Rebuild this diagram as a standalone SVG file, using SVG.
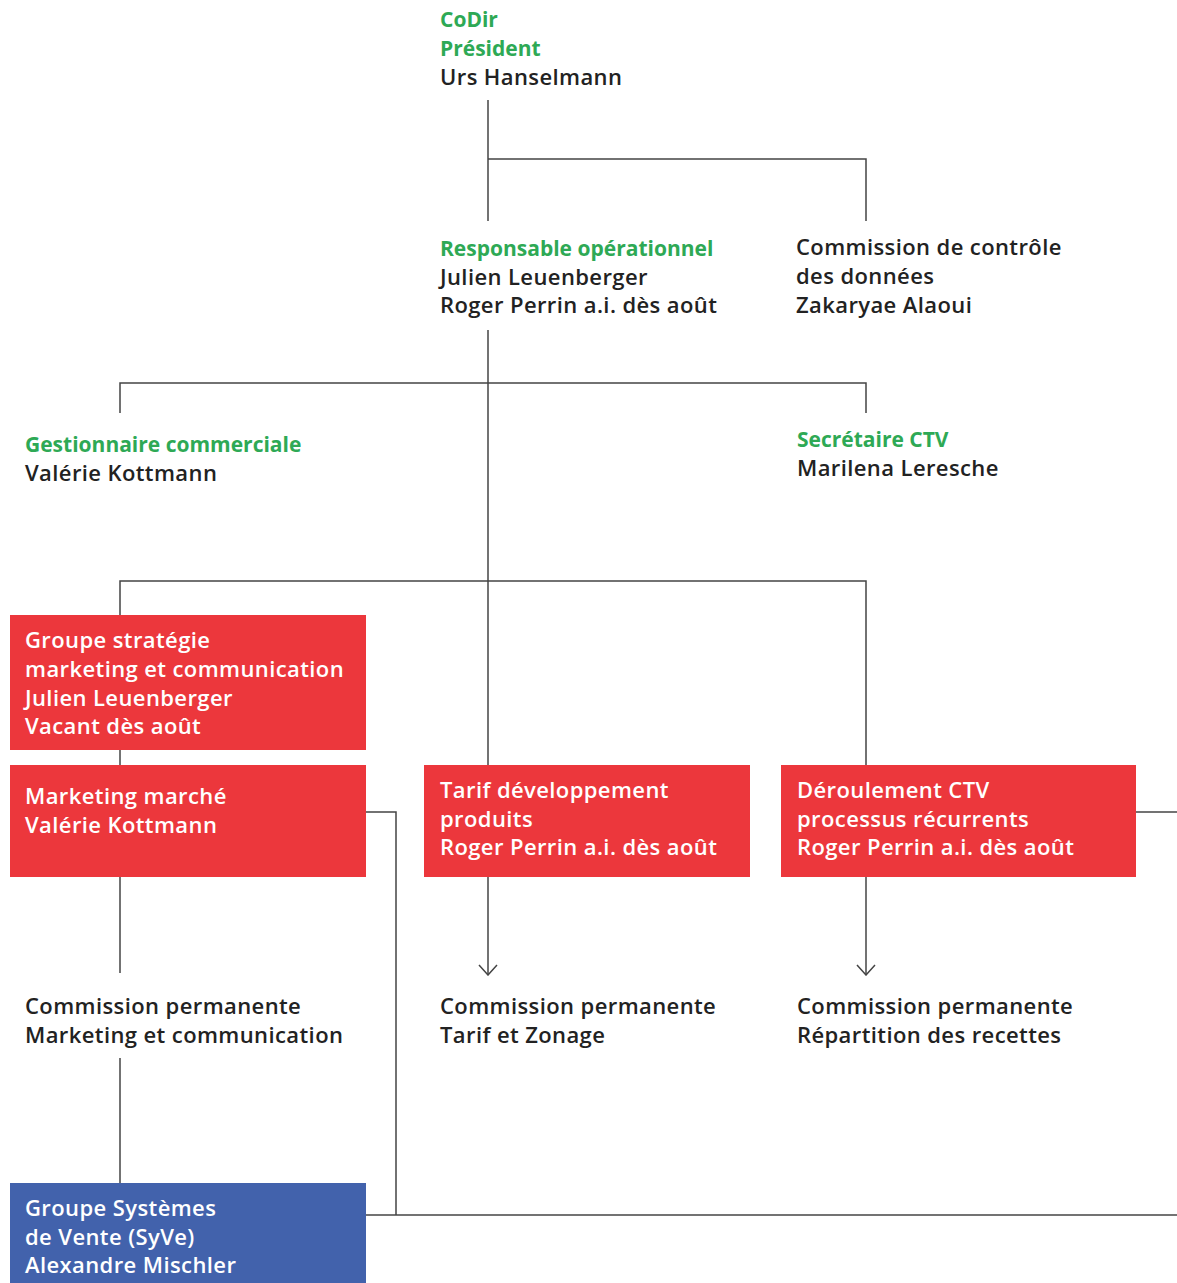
<svg xmlns="http://www.w3.org/2000/svg" width="1177" height="1283" viewBox="0 0 1177 1283">
<defs>
<style>
text{font-family:"Open Sans","Noto Sans","Liberation Sans",sans-serif;font-size:21px;}
.g{fill:#2ea955;font-weight:700;}
.k{fill:#222;font-weight:600;font-size:22px;letter-spacing:0.4px;}
.w{fill:#fff;font-weight:600;font-size:22px;letter-spacing:0.4px;}
.red{fill:#ec373c;}
.blue{fill:#4262ac;}
.ln{fill:none;stroke:#444;stroke-width:1.5;}
</style>
<marker id="chev" viewBox="0 0 12 20" refX="11" refY="10" markerWidth="12" markerHeight="20" markerUnits="userSpaceOnUse" orient="auto">
<path d="M1,1 L11,10 L1,19" fill="none" stroke="#444" stroke-width="1.5"/>
</marker>
</defs>
<rect width="1177" height="1283" fill="#fff"/>
<g id="connectors">
<path class="ln" d="M488,100 V221"/>
<path class="ln" d="M488,159 H866 V221"/>
<path class="ln" d="M488,330 V765"/>
<path class="ln" d="M120,413 V383 H866 V413"/>
<path class="ln" d="M120,615 V581 H866 V765"/>
<path class="ln" d="M120,750 V765"/>
<path class="ln" d="M120,877 V973"/>
<path class="ln" d="M120,1058 V1183"/>
<path class="ln" d="M366,812 H396 V1215"/>
<path class="ln" d="M366,1215 H1177"/>
<path class="ln" d="M1136,812 H1177"/>
<path class="ln" d="M488,877 V975" marker-end="url(#chev)"/>
<path class="ln" d="M866,877 V975" marker-end="url(#chev)"/>
</g>
<g id="codir">
<text x="440" y="27" class="g">CoDir</text>
<text x="440" y="56" class="g">Président</text>
<text x="440" y="85" class="k">Urs Hanselmann</text>
</g>
<g id="responsable">
<text x="440" y="256" class="g">Responsable opérationnel</text>
<text x="440" y="285" class="k">Julien Leuenberger</text>
<text x="440" y="313" class="k">Roger Perrin a.i. dès août</text>
</g>
<g id="commission-controle">
<text x="796" y="255" class="k">Commission de contrôle</text>
<text x="796" y="284" class="k">des données</text>
<text x="796" y="313" class="k">Zakaryae Alaoui</text>
</g>
<g id="gestionnaire">
<text x="25" y="452" class="g">Gestionnaire commerciale</text>
<text x="25" y="481" class="k">Valérie Kottmann</text>
</g>
<g id="secretaire">
<text x="797" y="447" class="g">Secrétaire CTV</text>
<text x="797" y="476" class="k">Marilena Leresche</text>
</g>
<g id="groupe-strategie">
<rect x="10" y="615" width="356" height="135" class="red"/>
<text x="25" y="648" class="w">Groupe stratégie</text>
<text x="25" y="677" class="w">marketing et communication</text>
<text x="25" y="706" class="w">Julien Leuenberger</text>
<text x="25" y="734" class="w">Vacant dès août</text>
</g>
<g id="marketing-marche">
<rect x="10" y="765" width="356" height="112" class="red"/>
<text x="25" y="804" class="w">Marketing marché</text>
<text x="25" y="833" class="w">Valérie Kottmann</text>
</g>
<g id="tarif">
<rect x="424" y="765" width="326" height="112" class="red"/>
<text x="440" y="798" class="w">Tarif développement</text>
<text x="440" y="827" class="w">produits</text>
<text x="440" y="855" class="w">Roger Perrin a.i. dès août</text>
</g>
<g id="deroulement">
<rect x="781" y="765" width="355" height="112" class="red"/>
<text x="797" y="798" class="w">Déroulement CTV</text>
<text x="797" y="827" class="w">processus récurrents</text>
<text x="797" y="855" class="w">Roger Perrin a.i. dès août</text>
</g>
<g id="cp-marketing">
<text x="25" y="1014" class="k">Commission permanente</text>
<text x="25" y="1043" class="k">Marketing et communication</text>
</g>
<g id="cp-tarif">
<text x="440" y="1014" class="k">Commission permanente</text>
<text x="440" y="1043" class="k">Tarif et Zonage</text>
</g>
<g id="cp-repartition">
<text x="797" y="1014" class="k">Commission permanente</text>
<text x="797" y="1043" class="k">Répartition des recettes</text>
</g>
<g id="syve">
<rect x="10" y="1183" width="356" height="100" class="blue"/>
<text x="25" y="1216" class="w">Groupe Systèmes</text>
<text x="25" y="1245" class="w">de Vente (SyVe)</text>
<text x="25" y="1273" class="w">Alexandre Mischler</text>
</g>
</svg>
